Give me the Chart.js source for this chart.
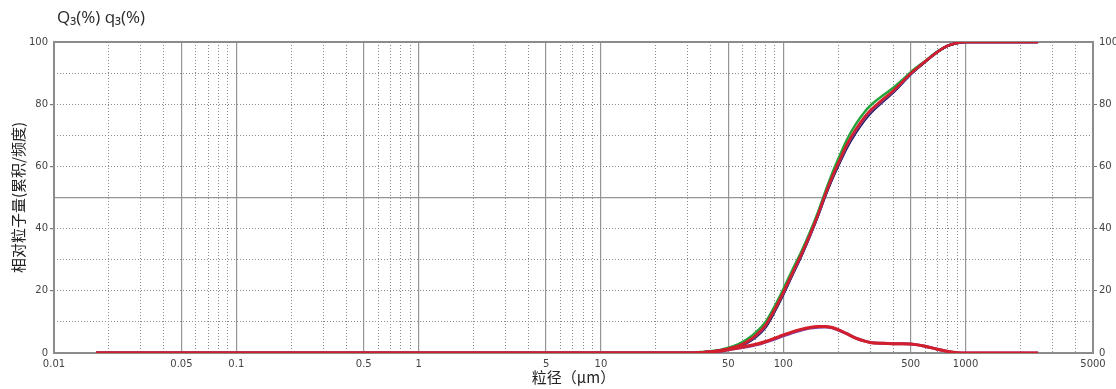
<!DOCTYPE html>
<html lang="zh">
<head>
<meta charset="utf-8">
<title>粒度分布</title>
<script src="https://cdn.jsdelivr.net/npm/chart.js@4/dist/chart.umd.min.js"></script>
<style>
  html, body { margin: 0; padding: 0; background: #fff; }
  #wrap { position: relative; width: 1116px; height: 389px; overflow: hidden; }
  #header { position: absolute; left: 57px; top: 5px; font: 17px "Open Sans", sans-serif; color: #2a2a2a; }
</style>
</head>
<body>
<div id="wrap">
  <canvas id="chart" width="1116" height="389"></canvas>
  <div id="header">Q₃(%) q₃(%)</div>
</div>
<script>
// 粒径 (μm) — 各系列共通の横軸
const sizes = [0.017, 30, 35, 40, 45, 50, 56, 63, 71, 80, 90, 100, 112, 125, 140, 155, 170, 185, 200, 223, 250, 280, 300, 350, 400, 450, 500, 600, 700, 800, 900, 1000, 1200, 2500];

// 累積分布 Q3 (%)
const cumRed    = [0, 0, 0.2, 0.5, 0.9, 1.4, 2.2, 3.6, 5.8, 9.0, 14.2, 19.5, 25.6, 31.4, 38.0, 44.5, 51.0, 56.5, 61.0, 67.0, 72.0, 76.0, 78.0, 81.5, 84.3, 87.2, 89.9, 93.7, 96.8, 98.8, 99.7, 100, 100, 100];
const cumGreen  = [0, 0, 0.3, 0.6, 1.0, 1.7, 2.7, 4.3, 6.7, 10.0, 15.2, 20.5, 26.6, 32.3, 38.8, 45.3, 51.9, 57.6, 62.3, 68.5, 73.6, 77.6, 79.5, 82.7, 85.2, 87.8, 90.3, 93.9, 96.9, 98.8, 99.7, 100, 100, 100];
const cumBlue   = [0, 0, 0.1, 0.4, 0.8, 1.2, 1.9, 3.2, 5.2, 8.3, 13.5, 18.8, 25.0, 30.9, 37.6, 44.1, 50.5, 55.8, 60.1, 65.9, 70.8, 74.9, 77.0, 80.7, 83.7, 86.8, 89.6, 93.6, 96.8, 98.8, 99.7, 100, 100, 100];
const cumPurple = [0, 0, 0.2, 0.5, 0.9, 1.3, 2.1, 3.4, 5.5, 8.7, 13.9, 19.2, 25.3, 31.2, 37.8, 44.3, 50.8, 56.2, 60.6, 66.5, 71.4, 75.5, 77.5, 81.1, 84.0, 87.0, 89.8, 93.7, 96.8, 98.8, 99.7, 100, 100, 100];
const cumBlack  = [0, 0, 0.1, 0.4, 0.8, 1.2, 2.0, 3.3, 5.3, 8.4, 13.6, 18.9, 25.1, 31.0, 37.7, 44.2, 50.6, 55.9, 60.3, 66.1, 71.0, 75.1, 77.2, 80.9, 83.8, 86.9, 89.7, 93.6, 96.8, 98.8, 99.7, 100, 100, 100];

// 頻度分布 q3 (%)
const freqRed    = [0, 0, 0.1, 0.3, 0.6, 1.1, 1.6, 2.2, 2.8, 3.7, 4.8, 5.8, 6.8, 7.6, 8.2, 8.5, 8.5, 8.2, 7.5, 6.2, 4.8, 3.8, 3.4, 3.1, 3.0, 3.0, 2.9, 2.2, 1.2, 0.5, 0.1, 0, 0, 0];
const freqPurple = [0, 0, 0.1, 0.3, 0.5, 1.0, 1.5, 2.0, 2.6, 3.5, 4.5, 5.5, 6.5, 7.3, 8.0, 8.3, 8.4, 8.1, 7.4, 6.2, 4.8, 3.8, 3.4, 3.1, 3.0, 3.0, 2.9, 2.2, 1.2, 0.5, 0.1, 0, 0, 0];

// 目盛り
const xMajorTicks  = [0.01, 0.05, 0.1, 0.5, 1, 5, 10, 50, 100, 500, 1000, 5000];
const xMajorLabels = ['0.01', '0.05', '0.1', '0.5', '1', '5', '10', '50', '100', '500', '1000', '5000'];
const xDecades     = [0.01, 0.1, 1, 10, 100, 1000];
const xMinorSteps  = [2, 3, 4, 6, 7, 8, 9];
const yMajorTicks  = [0, 20, 40, 50, 60, 80, 100];
const yRightTicks  = [0, 20, 40, 60, 80, 100];
const yMinorTicks  = [10, 20, 30, 40, 60, 70, 80, 90];

// 補助目盛り（点線）の位置
const xMinorTicks = [];
xDecades.forEach(d => {
    xMinorSteps.forEach(m => {
        const v = +(d * m).toPrecision(3);
        if (v < 5000) xMinorTicks.push(v);
    });
});

const GRID = '#959595';    // 実線のグリッド
const DOT = '#8a8a8a';     // 点線のグリッド
const BORDER = '#8c8c8c';  // 枠線
const tickFont = { family: '"DejaVu Sans", sans-serif', size: 10 };
const titleFont = { family: '"Noto Sans CJK SC", sans-serif', size: 15 };

// 目盛りを指定値に置き換える
function setTicks(values) {
    return scale => { scale.ticks = values.map(v => ({ value: v })); };
}

function isEdge(c) {
    return c.tick && (c.tick.value === 0.01 || c.tick.value === 5000);
}

function line(label, ys, color, width, order) {
    return {
        label: label,
        data: sizes.map((x, i) => ({ x: x, y: ys[i] })),
        borderColor: color,
        borderWidth: width,
        pointRadius: 0,
        fill: false,
        cubicInterpolationMode: 'monotone',
        order: order
    };
}

const ctx = document.getElementById('chart').getContext('2d');
new Chart(ctx, {
    type: 'line',
    data: {
        datasets: [
            line('q3 赤', freqRed, '#d21f2b', 3, 0),
            line('Q3 赤', cumRed, '#d21f2b', 2.5, 1),
            line('q3 紫', freqPurple, '#8a3a9e', 3, 2),
            line('Q3 紫', cumPurple, '#8a3a9e', 2.5, 3),
            line('Q3 黒', cumBlack, '#222222', 2.5, 4),
            line('Q3 青', cumBlue, '#2b2fb0', 2.5, 5),
            line('Q3 緑', cumGreen, '#26a33a', 2.5, 6)
        ]
    },
    options: {
        responsive: false,
        animation: false,
        layout: { padding: { top: 42, left: 0, right: 0, bottom: 0 } },
        plugins: {
            legend: { display: false },
            tooltip: { enabled: false }
        },
        scales: {
            x: {
                type: 'logarithmic',
                position: 'bottom',
                min: 0.01,
                max: 5000,
                afterBuildTicks: setTicks(xMajorTicks),
                afterFit: s => { s.height = 36; },
                grid: {
                    color: c => isEdge(c) ? BORDER : GRID,
                    lineWidth: c => isEdge(c) ? 2 : 1.2,
                    drawTicks: false
                },
                border: { color: BORDER, width: 2 },
                ticks: {
                    callback: (v, i) => xMajorLabels[i],
                    autoSkip: false,
                    maxRotation: 0,
                    padding: 5,
                    color: '#444',
                    font: tickFont
                },
                title: {
                    display: true,
                    text: '粒径（μm）',
                    color: '#222',
                    font: titleFont,
                    padding: { top: 0, bottom: 3 }
                }
            },
            xMinor: {
                type: 'logarithmic',
                position: 'bottom',
                min: 0.01,
                max: 5000,
                afterBuildTicks: setTicks(xMinorTicks),
                afterFit: s => { s.height = 0; },
                grid: { color: DOT, lineWidth: 1, drawTicks: false },
                border: { display: false, dash: [1, 2] },
                ticks: { display: false }
            },
            y: {
                type: 'linear',
                position: 'left',
                min: 0,
                max: 100,
                afterBuildTicks: setTicks(yMajorTicks),
                afterFit: s => { s.width = 54; },
                grid: {
                    color: c => c.tick.value === 50 ? GRID : (c.tick.value === 100 ? BORDER : 'rgba(0,0,0,0)'),
                    lineWidth: c => c.tick.value === 100 ? 2 : 1.2,
                    tickColor: c => (c.tick.value % 20 === 0 && c.tick.value > 0 && c.tick.value < 100) ? '#777' : 'rgba(0,0,0,0)',
                    tickLength: 4
                },
                border: { color: BORDER, width: 2 },
                ticks: {
                    callback: v => v === 50 ? '' : String(v),
                    padding: 2,
                    color: '#444',
                    font: tickFont
                },
                title: {
                    display: true,
                    text: '相对粒子量(累积/频度)',
                    color: '#222',
                    font: titleFont,
                    padding: { top: 9, bottom: 0 }
                }
            },
            yMinor: {
                type: 'linear',
                position: 'left',
                min: 0,
                max: 100,
                afterBuildTicks: setTicks(yMinorTicks),
                afterFit: s => { s.width = 0; },
                grid: { color: DOT, lineWidth: 1, drawTicks: false },
                border: { display: false, dash: [1, 2] },
                ticks: { display: false }
            },
            y2: {
                type: 'linear',
                position: 'right',
                min: 0,
                max: 100,
                afterBuildTicks: setTicks(yRightTicks),
                afterFit: s => { s.width = 23; },
                grid: {
                    drawOnChartArea: false,
                    tickColor: c => (c.tick.value > 0 && c.tick.value < 100) ? '#777' : 'rgba(0,0,0,0)',
                    tickLength: 4
                },
                border: { color: BORDER, width: 2 },
                ticks: { padding: 2, color: '#444', font: tickFont }
            }
        }
    }
});
</script>
</body>
</html>
